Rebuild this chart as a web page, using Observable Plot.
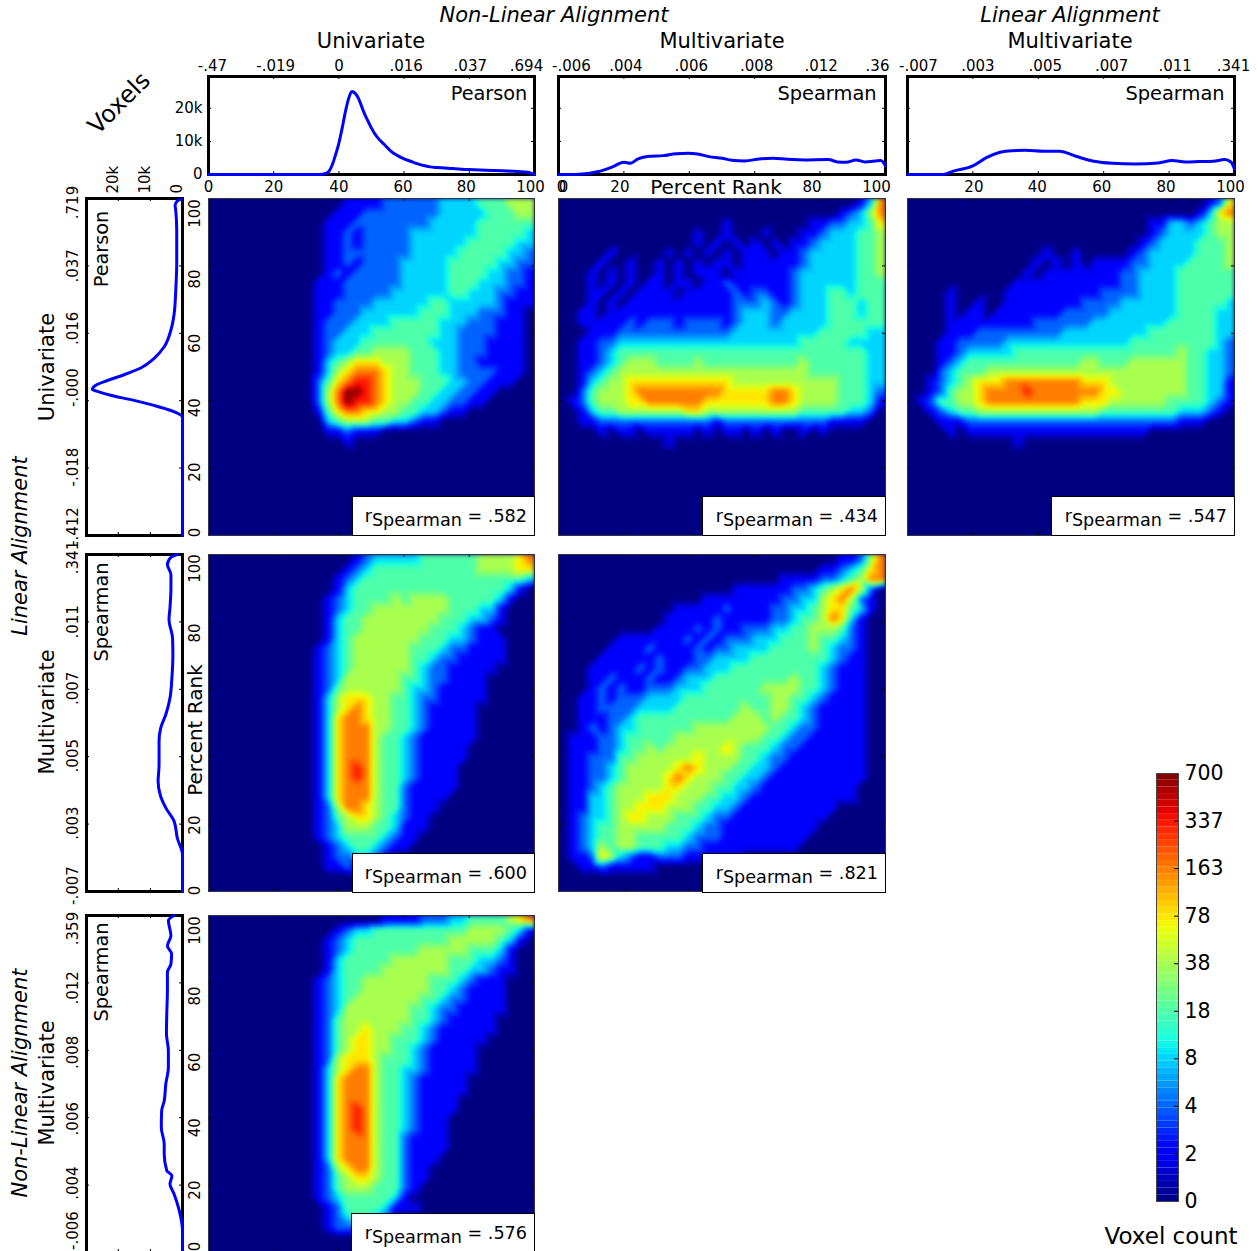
<!DOCTYPE html>
<html><head><meta charset="utf-8">
<script src="https://cdn.jsdelivr.net/npm/d3@7"></script>
<script src="https://cdn.jsdelivr.net/npm/@observablehq/plot@0.6"></script>
<style>
html,body{margin:0;padding:0;background:#fff;overflow:hidden}
#fig{position:relative;width:1258px;height:1251px;overflow:hidden;font-family:"DejaVu Sans";color:#000}
.l{position:absolute;white-space:nowrap;line-height:1;transform-origin:center}
.box{position:absolute;background:#fff;border:1px solid #000;box-sizing:border-box;font-size:17.6px;text-align:right;padding:11px 7px 0 0;white-space:nowrap;line-height:1}
.box sub{font-size:100%;vertical-align:-4px;line-height:0}
</style></head><body><div id="fig"></div>
<script>
// Histograms: percent rank -> voxels
const top1Rank=[0,34,36,37,38,39,40,41,42,43,44,45,46,47,48,49,50,51,52,54,56,58,60,62,64,66,68,70,75,80,85,90,95,98,99,100];
const top1Count=[0,0,300,1000,3000,6000,9500,14000,19000,23000,25100,24500,23000,20500,18000,16000,14000,12300,11000,9000,7000,5700,4700,4000,3300,2700,2300,2100,1800,1500,1300,1100,900,700,300,0];
const top2Rank=[0,5.3,12.3,16.5,20,22,24.3,27.8,32,36,39.7,42.5,46,50,53,57,61.4,65.6,70,75.5,82.5,85.3,88,91,93.7,98.6,100];
const top2Count=[0,0,900,2300,3700,3400,4700,5500,5700,6300,6400,6200,5400,4900,4300,4100,4700,4900,4600,4400,4500,3800,3700,4400,3800,4200,2600];
const top3Rank=[0,10.8,14.3,20,24,28.3,31.8,36,41.7,46.5,51.5,57,62.7,69.7,76.7,81,85,89.3,93.5,97,99,100];
const top3Count=[0,0,1100,2600,5000,6700,7200,7300,7000,7000,5500,4000,3400,3200,3500,4200,3800,3900,4000,4500,3700,1600];
const left1Rank=[0,35.1,37.1,38.6,40.1,41.6,42.9,43.3,44.6,46,47.7,49.7,52.5,56,61,65.8,72.8,80.7,90.6,96.5,98,99.3,99.8];
const left1Count=[0,0,3600,8900,15100,22400,27000,28100,27000,23400,18200,13000,8900,5700,3600,2600,2100,1800,1800,2100,2300,1600,300];
const left2Rank=[0,10.9,15.8,20.8,24.8,28.2,32.7,37.6,44.6,48.5,52.5,57.4,63.4,70.3,75.2,80.7,84.2,90.1,94,97,99.2,100];
const left2Count=[0,0,1600,2600,5200,6800,7600,7300,7300,6800,5200,3900,3300,3000,3100,4200,3900,3600,3600,4700,3600,1600];
const left3Rank=[0,6.4,12.4,17.3,20.3,22.8,24.3,29.2,32.2,37.1,42,45,50,55,59.9,64.9,70.8,77.7,83.2,85.6,88.6,91,94,98.5,100];
const left3Count=[0,0,1000,2600,3900,3300,4900,5700,5700,6600,6500,5700,5200,4400,4400,5000,4900,4700,4700,3600,3400,4700,3600,4400,2600];

// Labels
const rankTicks=[0,20,40,60,80,100];
const top1Labels=["-.47","-.019","0",".016",".037",".694"];
const top2Labels=["-.006",".004",".006",".008",".012",".36"];
const top3Labels=["-.007",".003",".005",".007",".011",".341"];
const left1Labels=[".719",".037",".016","-.000","-.018","-.412"];
const left2Labels=[".341",".011",".007",".005",".003","-.007"];
const left3Labels=[".359",".012",".008",".006",".004","-.006"];
const rhoValues=[".582",".434",".547",".600",".821",".576"];
const cbarLabels=["0","2","4","8","18","38","78","163","337","700"];

// Heat maps: voxel-count level per bin (digit = colour-bar tick index), top row = rank 100
const gridA=[
"0000000000 0000111122 2222333344 4555","0000000000 0001112222 2222333334 4455","0000000000 0011122222 2223333344 4444",
"0000000000 0011212222 2333333344 4443","0000000000 0011212222 2333333444 4433","0000000000 0011222222 2333334444 4332",
"0000000000 0011212222 3333344444 3322","0000000000 0012122222 3333344443 3221","0000000000 0111222222 3333344433 3221",
"0000000000 0111222223 3333344333 2211","0000000000 0112222333 3334433333 2111","0000000000 0112223333 3344433322 2110",
"0000000000 0122233334 4444333222 1110","0000000000 0122333444 4444332222 1110","0000000000 0123334444 4443332221 1110",
"0000000000 0123344555 5444332221 1110","0000000000 0134566655 5444332211 1110","0000000000 0135677765 5444332222 1110",
"0000000000 0246788765 5544433221 1100","0000000000 0257998765 5544332211 0000","0000000000 0257988765 5443322110 0000",
"0000000000 0146776655 4433211000 0000","0000000000 0034555443 3211000000 0000","0000000000 0011211100 0000000000 0000",
"0000000000 0000100000 0000000000 0000"];
const gridB=[
"0000000000 0000000000 0000000000 0137","0000000000 0000000000 0000000001 2357","0000000000 0000000100 0000001122 3346",
"0000000000 0000100100 0100011233 3445","0000000000 0000101010 1010112333 3445","0000010000 0101010101 1101123333 3445",
"0000100100 1010101101 1111123333 3445","0001010100 1010111011 1111233333 3445","0001010101 1011011211 1111233333 3444",
"0001101011 1101111121 2211233344 3444","0001010111 1111111122 2321233344 4344","0011011111 1111111123 3322333344 4344",
"0011111212 2212222123 3323333344 4444","0001112222 2222222233 3333333444 4433","0011223333 3333333333 3333344444 3333",
"0011234444 4444444444 4444444444 4433","0011234555 4444544444 4444454444 4433","0012345555 5555555555 5555554444 4433",
"0013455666 6666666655 5555555554 4433","0024555677 7777777666 6677655554 4432","0124555667 7777766666 6677655554 4431",
"0013445555 5556655555 5555544444 3320","0011222222 2222221222 2222222211 1100","0000101101 1111010110 1010010100 0000",
"0000000000 0100000000 0000000000 0000"];
const gridC=[
"0000000000 0000000000 0000000000 0126","0000000000 0000000000 0000000000 1367","0000000000 0000000000 0000011332 3455",
"0000000000 0000000000 0000012333 3455","0000000000 0000000000 0000123333 4445","0000000000 0000100100 0001233333 4445",
"0000000000 0001010101 1112233334 4445","0000000000 0010111111 1122333344 4444","0000000000 0111111111 1122333344 4444",
"0000100000 1111111111 2222333344 4444","0000100100 1111111122 2233333344 4443","0000101101 1111112222 2333333344 4433",
"0000111111 1112222223 3333333444 4433","0000111222 2222223333 3333344444 4433","0001122222 3333333333 3334444444 4432",
"0001123333 3444444444 4444444454 4332","0001234444 4444444455 4445555554 4332","0002344455 5555555555 5555555554 4332",
"0012345666 7777777766 6555555554 4331","0012455677 7787777777 6655555554 4331","0124455677 7777777766 6555555444 4321",
"0012344555 5555555555 4444444433 3210","0001112222 2222222222 2222222211 1000","0000101111 1111111111 1111100000 0000",
"0000000000 0100000000 0000000000 0000"];
const gridD=[
"0000000000 0000012333 3344444455 5567","0000000000 0000123444 4444444455 5566","0000000000 0001234444 4444444444 4443",
"0000000000 0001344444 4444444444 4310","0000000000 0012344445 4555544444 3100","0000000000 0012344555 5555544433 1000",
"0000000000 0013445555 5555444332 1000","0000000000 0013445555 5554443211 0000","0000000000 0013455555 5544433211 1000",
"0000000000 0123455555 5444322111 1000","0000000000 0123455555 5443221111 1000","0000000000 0123455555 5432211111 0000",
"0000000000 0123555555 4432211110 0000","0000000000 0124555555 4332111110 0000","0000000000 0135666554 4322111110 0000",
"0000000000 0135676554 4321111100 0000","0000000000 0136776554 4321111100 0000","0000000000 0136777554 4321111100 0000",
"0000000000 0136777544 3211111100 0000","0000000000 0136777544 3211111000 0000","0000000000 0136777544 3211111000 0000",
"0000000000 0136787544 3211110000 0000","0000000000 0136787544 3211110000 0000","0000000000 0136777544 2111110000 0000",
"0000000000 0136777544 2111100000 0000","0000000000 0125776544 2111000000 0000","0000000000 0124566543 2110000000 0000",
"0000000000 0123555443 1110000000 0000","0000000000 0123444432 1100000000 0000","0000000000 0012344321 1000000000 0000",
"0000000000 0012233210 0000000000 0000","0000000000 0011211000 0000000000 0000"];
const gridE=[
"0000000000 0000000000 0000000001 1257","0000000000 0000000000 0000000112 3467","0000000000 0000000000 0001111223 4577",
"0000000000 0000000011 1111223456 7520","0000000000 0000011111 1112233567 5210","0000000000 0011111211 1122334566 4310",
"0000000000 0111112111 1122344576 3100","0000000000 1111212112 2233445554 2100","0000001111 1112121222 3334445443 2100",
"0000011112 1111212233 3344445432 2100","0000111111 2111223333 4444444432 1100","0001111121 2112233344 4444444321 1100",
"0001121112 1123334444 4444544321 1100","0001212112 2233344444 4555544321 1100","0011212223 3334444444 4455443211 1100",
"0011222233 3344444445 4455432111 1100","0011122344 4444444455 5454432111 1100","0012123344 4444555555 5544322111 1100",
"0111223444 4455555555 5443221111 1100","0111223445 4555555654 4432211111 1100","0112224455 5555655554 4322111111 1100",
"0112234555 5567655544 3321111111 1100","0112234555 5676555443 3211111111 1100","0112345555 5665554433 2111111111 1000",
"0113345556 6655544332 1111111111 1000","0113345566 6555443321 1111111110 0000","0123345665 5544432211 1111111100 0000",
"0123445555 5444322111 1111111000 0000","0123445544 4443222111 1111110000 0000","0123545544 4332211111 1111100000 0000",
"0112653211 2221111110 0000000000 0000","0011211111 0000000000 0000000000 0000"];
const gridF=[
"0000000000 0000000011 1122233444 4567","0000000000 0001233444 4444444555 5431","0000000000 0012344444 4444455555 4310",
"0000000000 0012344444 4455555444 3100","0000000000 0013444445 5555544433 2100","0000000000 0013444455 5555544332 1100",
"0000000000 0123445555 5554443211 1000","0000000000 0123445555 5554432111 1000","0000000000 0123455555 5544322111 1000",
"0000000000 0123555555 5443221111 1000","0000000000 0124555555 5443211111 0000","0000000000 0124556555 4432111111 0000",
"0000000000 0124566554 4432111110 0000","0000000000 0124566554 4321111100 0000","0000000000 0125666544 4321111100 0000",
"0000000000 0135677544 3321111100 0000","0000000000 0136777544 3211111000 0000","0000000000 0136777544 3211111000 0000",
"0000000000 0136777544 3211110000 0000","0000000000 0136787544 3211110000 0000","0000000000 0136787544 3211100000 0000",
"0000000000 0136787544 3211100000 0000","0000000000 0136777544 2111100000 0000","0000000000 0136777544 2111100000 0000",
"0000000000 0136777544 2111000000 0000","0000000000 0125677544 2110000000 0000","0000000000 0124566544 2110000000 0000",
"0000000000 0124555444 2100000000 0000","0000000000 0123444443 1000000000 0000","0000000000 0012444431 1100000000 0000",
"0000000000 0012344321 0000000000 0000","0000000000 0012221100 0000000000 0000"];

const N=34, EMPTY="0".repeat(N);
const clampIdx=i=>Math.max(0,Math.min(N-1,i));
// one repeated row and column beyond each edge keeps the raster's hull over the whole frame
const toPoints=rows=>{
  const clean=d3.range(N).map(r=>(rows[r]||EMPTY).replace(/ /g,"").padEnd(N,"0"));
  return d3.range(-1,N+1).flatMap(r=>d3.range(-1,N+1).map(i=>({x:(i+.5)*100/N,y:100-(r+.5)*100/N,v:+clean[clampIdx(r)][clampIdx(i)]})));
};
const seg=(a,b,t,x0,x1)=>x0+(x1-x0)*(t-a)/(b-a);
function jet(t){
  const R=t<.35?0:t<.66?seg(.35,.66,t,0,1):t<.89?1:seg(.89,1,t,1,.5);
  const G=t<.125?0:t<.375?seg(.125,.375,t,0,1):t<.64?1:t<.91?seg(.64,.91,t,1,0):0;
  const B=t<.11?seg(0,.11,t,.5,1):t<.34?1:t<.65?seg(.34,.65,t,1,0):0;
  return d3.rgb(R*255,G*255,B*255)+"";
}
const fig=document.getElementById("fig");
const FONT='"DejaVu Sans"';
function place(svg,x,y){svg.style.position="absolute";svg.style.left=x+"px";svg.style.top=y+"px";svg.style.background="transparent";svg.style.maxWidth="none";svg.style.overflow="visible";fig.appendChild(svg);}
function label(text,x,y,size,rot=0,italic=false){
  const s=document.createElement("div");s.className="l";s.textContent=text;
  s.style.cssText+=`left:${x}px;top:${y}px;font-size:${size}px;transform:translate(-50%,-50%) rotate(${rot}deg);${italic?"font-style:italic;":""}`;
  fig.appendChild(s);
}
const xTicks=(H,vals=rankTicks)=>[Plot.tickX(vals,{x:d=>d,insetBottom:H-3,stroke:"#000"}),Plot.tickX(vals,{x:d=>d,insetTop:H-3,stroke:"#000"})];
const yTicks=(W,vals=rankTicks)=>[Plot.tickY(vals,{y:d=>d,insetRight:W-3,stroke:"#000"}),Plot.tickY(vals,{y:d=>d,insetLeft:W-3,stroke:"#000"})];

// ---------- heat map ----------
const heatH=337;
function heat(grid,x0,w,y0,rankLabels,rankNudges){
  const mL=32;
  const text=rankLabels?rankLabels.map((t,i)=>Plot.text([t],{x:()=>0,y:d=>d,text:d=>String(d),rotate:-90,dx:-13,dy:rankNudges[i],fontSize:15})):[];
  const svg=Plot.plot({width:w+mL,height:heatH,marginLeft:mL,marginRight:0,marginTop:0,marginBottom:0,
    style:{fontFamily:FONT},
    x:{domain:[0,100],axis:null},y:{domain:[0,100],axis:null},
    color:{type:"linear",domain:[0,9],interpolate:jet},
    marks:[
      Plot.frame({fill:"#000080"}),
      Plot.raster(toPoints(grid),{x:"x",y:"y",fill:"v",x1:0,x2:100,y1:0,y2:100,interpolate:"barycentric",pixelSize:2,clip:"frame"}),
      ...xTicks(heatH),...yTicks(w),
      Plot.frame({stroke:"#334",strokeWidth:1}),
      ...text
    ]});
  const img=svg.querySelector("image");
  if(img) img.style.filter="blur(2px)";
  place(svg,x0-mL,y0);
}
// ---------- top histogram ----------
function topHist(x0,w,rank,count,labels,topNudges,botVals,botNudges,withY){
  const data=rank.map((r,i)=>({r,c:count[i]}));
  const mL=50,mR=30,mT=30,mB=25,H=98;
  const svg=Plot.plot({width:w+mL+mR,height:H+mT+mB,marginLeft:mL,marginRight:mR,marginTop:mT,marginBottom:mB,
    style:{fontFamily:FONT},
    x:{domain:[0,100],axis:null},y:{domain:[0,29600],axis:null},
    marks:[
      Plot.frame({stroke:"#000",strokeWidth:3}),
      ...xTicks(H),...yTicks(w,[0,10000,20000]),
      ...rankTicks.map((t,i)=>Plot.text([t],{x:d=>d,frameAnchor:"top",lineAnchor:"middle",text:()=>labels[i],dx:topNudges[i],dy:-10,fontSize:15})),
      ...botVals.map((t,i)=>Plot.text([t],{x:d=>d,frameAnchor:"bottom",lineAnchor:"middle",text:d=>String(d),dx:botNudges[i],dy:13,fontSize:15})),
      ...(withY?[0,10000,20000].map(t=>Plot.text([t],{y:d=>d,frameAnchor:"left",text:d=>d?d/1000+"k":"0",dx:-6,textAnchor:"end",fontSize:15})):[]),
      Plot.line(data,{x:"r",y:"c",stroke:"#0000ff",strokeWidth:3,curve:"monotone-x"})
    ]});
  place(svg,x0-mL,76-mT);
}
// ---------- left histogram ----------
function leftHist(y0,rank,count,labels,nudges){
  const data=rank.map((r,i)=>({r,c:count[i]}));
  const mL=40,mR=10,mT=30,W=96;
  const svg=Plot.plot({width:W+mL+mR,height:heatH+mT+20,marginLeft:mL,marginRight:mR,marginTop:mT,marginBottom:20,
    style:{fontFamily:FONT},
    x:{domain:[29900,0],axis:null},y:{domain:[0,100],axis:null},
    marks:[
      Plot.frame({stroke:"#000",strokeWidth:3}),
      ...xTicks(heatH,[0,10000,20000]),...yTicks(W),
      ...rankTicks.map((t,i)=>Plot.text([t],{y:d=>100-d,frameAnchor:"left",textAnchor:"middle",lineAnchor:"middle",text:()=>labels[i],rotate:-90,dx:-13,dy:nudges[i],fontSize:15})),
      ...(y0===198?[0,10000,20000].map(t=>Plot.text([t],{x:d=>d,frameAnchor:"top",lineAnchor:"middle",text:d=>d?d/1000+"k":"0",rotate:-90,textAnchor:"start",dx:-5,dy:-5,fontSize:15})):[]),
      Plot.line(data,{x:"c",y:"r",stroke:"#0000ff",strokeWidth:3,curve:"monotone-y"})
    ]});
  place(svg,86-mL,y0-mT);
}

topHist(208,326,top1Rank,top1Count,top1Labels,[4,2,0,2,1,-8],[0,20,40,60,80,100],[0,0,0,-1,-3,-4],true);
topHist(558,327,top2Rank,top2Count,top2Labels,[13,2,2,2,1,-8],[0,0,20,80,100],[3,5,-4,-8,-9],false);
topHist(907,327,top3Rank,top3Count,top3Labels,[11,5,7,8,6,-1],[20,40,60,80,100],[1,-1,-2,-3,-4],false);

leftHist(198,left1Rank,left1Count,left1Labels,[4,0,-5,-13,-1,-9]);
leftHist(554,left2Rank,left2Count,left2Labels,[3,0,-1,-1,-1,-6]);
leftHist(915,left3Rank,left3Count,left3Labels,[13,5,2,1,-2,-22]);

heat(gridA,208,326,198,[100,80,60,40,20,0],[15,13,10,7,4,-3]);
heat(gridB,558,327,198);
heat(gridC,907,327,198);
heat(gridD,208,326,554,[100,80,20,0],[14,11,1,-1]);
heat(gridE,558,327,554);
heat(gridF,208,326,915,[100,80,60,40,20,0],[15,13,12,10,5,-6]);

// ---------- statistic boxes ----------
[[352,496],[702,496],[1051,496],[352,853],[702,853],[351,1213]].forEach(([x,y],i)=>{
  const b=document.createElement("div");b.className="box";
  const right=[534,885,1234,534,885,534][i];
  b.style.cssText+=`left:${x}px;top:${y}px;width:${right-x+1}px;height:${(i===5?39:40)}px`;
  b.innerHTML=`r<sub>Spearman</sub> = ${rhoValues[i]}`;
  fig.appendChild(b);
});

// ---------- colour bar ----------
const bandCount=64;
const bands=d3.range(bandCount);
place(Plot.plot({width:120,height:428+20,marginLeft:0,marginRight:98,marginTop:10,marginBottom:10,
  style:{fontFamily:FONT},
  x:{domain:[0,1],axis:null},y:{domain:[0,9],axis:null},
  color:{type:"linear",domain:[0,9],interpolate:jet},
  marks:[
    Plot.rect(bands,{x1:0,x2:1,y1:d=>d*9/bandCount,y2:d=>(d+1)*9/bandCount,fill:d=>(d+.5)*9/bandCount}),
    Plot.frame({stroke:"#444",strokeWidth:1}),
    Plot.tickY(d3.range(1,9),{y:d=>d,insetLeft:18,stroke:"#000"}),
    ...d3.range(10).map(i=>Plot.text([i],{y:d=>d,frameAnchor:"right",text:()=>cbarLabels[i],textAnchor:"start",dx:6,fontSize:20.5}))
  ]}),1156,763);

// ---------- headers ----------
label("Non-Linear Alignment",554,15,21,0,true);
label("Linear Alignment",1070,15,21,0,true);
label("Univariate",371,41,21);
label("Multivariate",722,41,21);
label("Multivariate",1070,41,21);
label("Pearson",489,94,19.3);
label("Spearman",827,94,19.4);
label("Spearman",1175,94,19.4);
label("Percent Rank",716,187,20);
label("Percent Rank",195,730,20,-90);
label("Voxels",119,103,24,-45);
label("Univariate",47,367,21,-90);
label("Multivariate",47,712,21,-90);
label("Multivariate",47,1083,21,-90);
label("Linear Alignment",20,546,21,-90,true);
label("Non-Linear Alignment",20,1083,21,-90,true);
label("Pearson",102,249,19.3,-90);
label("Spearman",102,612,19.4,-90);
label("Spearman",102,972,19.4,-90);
label("Voxel count",1171,1236,23);
</script></body></html>
